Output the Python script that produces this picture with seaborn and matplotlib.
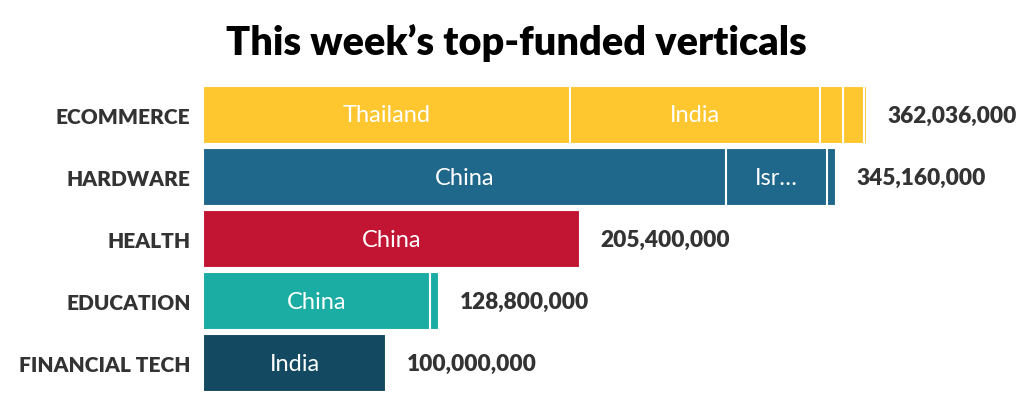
import matplotlib
matplotlib.use('Agg')
import matplotlib.pyplot as plt
import seaborn as sns
import numpy as np

# 데이터 (백만 달러 단위)
verticals = ['ECOMMERCE', 'HARDWARE', 'HEALTH', 'EDUCATION', 'FINANCIAL TECH']
totals = [362036000, 345160000, 205400000, 128800000, 100000000]
seg1 = [200.0, 285.0, 205.4, 123.8, 100.0]
seg1_labels = ['Thailand', 'China', 'China', 'China', 'India']
seg2 = [136.5, 55.0, 0.0, 5.0, 0.0]
seg2_labels = ['India', 'Israel', '', '', '']
seg3 = [12.3, 5.16, 0.0, 0.0, 0.0]
seg4 = [11.7, 0.0, 0.0, 0.0, 0.0]
seg5 = [1.536, 0.0, 0.0, 0.0, 0.0]
colors = ['#FEC72F', '#20688B', '#C21533', '#1BADA4', '#134A62']

segments = [seg1, seg2, seg3, seg4, seg5]
seg_labels = [seg1_labels, seg2_labels]

sns.set_theme(style='white')
plt.rcParams['font.family'] = ['Lato', 'DejaVu Sans']

fig = plt.figure(figsize=(10.33, 4.10), dpi=100)
ax = fig.add_axes([203 / 1033, 0, 1 - 203 / 1033, 330 / 410])

cum = np.cumsum(np.array(segments), axis=0)

# 누적 막대를 뒤에서부터 겹쳐 그리기
for layer in range(len(segments) - 1, -1, -1):
    sns.barplot(x=cum[layer], y=verticals, hue=verticals, palette=colors,
                saturation=1, orient='h', width=0.935, edgecolor='white',
                linewidth=1.5, legend=False, ax=ax)

ax.set_xlim(0, 452.6)
ax.set_ylim(4.74, -0.58)
sns.despine(ax=ax, left=True, bottom=True)
ax.set_xticks([])
ax.set_xlabel('')
ax.set_ylabel('')
ax.tick_params(axis='y', length=0, pad=9)
for lbl in ax.get_yticklabels():
    lbl.set_fontsize(15)
    lbl.set_fontweight('heavy')
    lbl.set_color('#333333')

fig.canvas.draw()
renderer = fig.canvas.get_renderer()
px_per_unit = ax.transData.transform((1, 0))[0] - ax.transData.transform((0, 0))[0]

# 세그먼트 안쪽 라벨 (안 들어가면 말줄임)
for s, labels in enumerate(seg_labels):
    for i, name in enumerate(labels):
        if not name:
            continue
        start = cum[s - 1][i] if s > 0 else 0
        width = segments[s][i]
        t = ax.text(start + width / 2, i, name, ha='center', va='center',
                    color='white', fontsize=17)
        avail = width * px_per_unit - 55
        text = name
        while t.get_window_extent(renderer).width > avail and len(text) > 1:
            text = text[:-1]
            t.set_text(text.rstrip() + '…')

# 합계 라벨
for i, total in enumerate(totals):
    ax.annotate(f'{total:,}', xy=(total / 1e6, i), xytext=(15, 0),
                textcoords='offset points', ha='left', va='center',
                fontsize=16.3, fontweight='heavy', color='#333333')

fig.text(0.5, 1 - 43 / 410, 'This week’s top-funded verticals', ha='center',
         va='center', fontsize=28.5, fontweight='heavy', color='black')

fig.savefig('out.png', dpi=100)
